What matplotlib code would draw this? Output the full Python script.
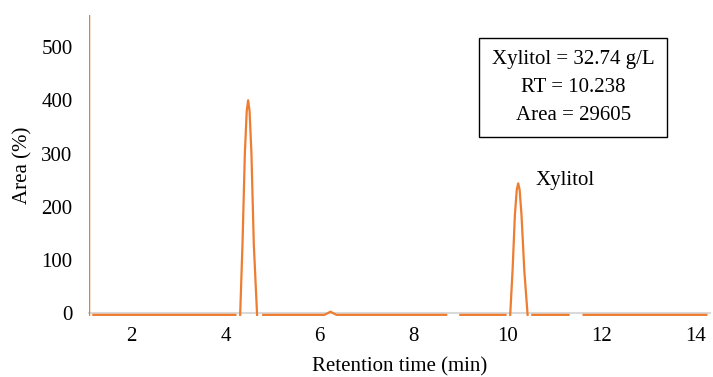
"""
Cromatograma HPLC do xilitol: area (%) vs tempo de retencao.
Salva out.png (713x377).
"""

import matplotlib

matplotlib.use("Agg")
import matplotlib.pyplot as plt
import numpy as np

NAN = np.nan

# Tempo de retencao (min); NaN separa os trechos do traco
TIME = [
    1.10, 1.10, NAN,
    1.19, 4.21, NAN,
    4.31, 4.36, 4.41, 4.45, 4.48, 4.51, 4.55, 4.60, 4.67, NAN,
    4.80, 6.10, 6.17, 6.23, 6.29, 6.36, 8.69, NAN,
    8.99, 9.95, NAN,
    10.05, 10.10, 10.15, 10.19, 10.22, 10.25, 10.29, 10.35, 10.42, NAN,
    10.52, 11.29, NAN,
    11.61, 14.22,
]
AREA = [
    700, -3, NAN,
    -3, -3, NAN,
    -3, 130, 300, 380, 400, 380, 300, 130, -3, NAN,
    -3, -3, 0, 3, 0, -3, -3, NAN,
    -3, -3, NAN,
    -3, 80, 185, 232, 244, 232, 185, 80, -3, NAN,
    -3, -3, NAN,
    -3, -3,
]

X_TICKS = [2, 4, 6, 8, 10, 12, 14]
Y_TICKS = [0, 100, 200, 300, 400, 500]

PEAK_LABEL = "Xylitol"
INFO_LINES = ["Xylitol = 32.74 g/L", "RT = 10.238", "Area = 29605"]

ORANGE = "#ED7D31"
FS = 15


def main() -> None:
    plt.rcParams["font.family"] = ["Liberation Serif", "DejaVu Serif"]

    fig = plt.figure(figsize=(7.13, 3.77), dpi=100)
    ax = fig.add_axes([0.125, 0.162, 0.871, 0.798])

    ax.plot(TIME, AREA, color=ORANGE, lw=1.6, solid_joinstyle="round", zorder=3)

    ax.set_xlim(1.1, 14.3)
    ax.set_ylim(-5, 560)
    ax.set_xticks(X_TICKS)
    ax.set_yticks(Y_TICKS)
    ax.tick_params(length=0, labelsize=FS)
    ax.tick_params(axis="y", pad=12)
    ax.tick_params(axis="x", pad=10)

    for side in ["top", "right", "left"]:
        ax.spines[side].set_visible(False)
    ax.spines["bottom"].set_position(("data", 0))
    ax.spines["bottom"].set_color("#D9D9D9")
    ax.spines["bottom"].set_linewidth(1.5)

    ax.set_xlabel("Retention time (min)", fontsize=FS, labelpad=8)
    ax.set_ylabel("Area (%)", fontsize=FS, labelpad=6)

    ax.text(10.58, 250, PEAK_LABEL, fontsize=FS, ha="left", va="center")

    ax.text(
        11.39, 424, "\n".join(INFO_LINES),
        fontsize=FS, ha="center", va="center", linespacing=1.62,
        bbox=dict(boxstyle="square,pad=0.6", fc="white", ec="black", lw=1.0),
    )

    fig.savefig("out.png", dpi=100)
    plt.close(fig)


if __name__ == "__main__":
    main()
